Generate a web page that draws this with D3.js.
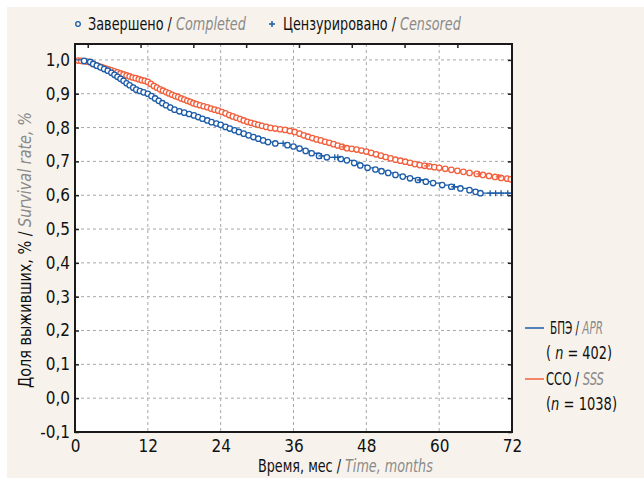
<!DOCTYPE html>
<html>
<head>
<meta charset="utf-8">
<script src="https://cdn.jsdelivr.net/npm/d3@7"></script>
<style>
  body { margin: 0; background: #fff; }
  svg text { font-family: "Liberation Sans Narrow", "DejaVu Sans Condensed", sans-serif; }
</style>
</head>
<body>
<svg id="chart" width="644" height="478"></svg>
<script>
// APR (БПЭ) events: month, survival
let aprT = [1.5, 2.5, 3.0, 3.6, 4.2, 4.8, 5.4, 6.0, 6.5, 7.0, 7.5, 8.0, 8.5, 9.0, 9.6, 10.1, 10.7, 11.3, 12.0,
  12.6, 13.2, 13.8, 14.4, 15.0, 15.7, 16.4, 17.2, 18.0, 18.8, 19.6, 20.3, 21.0, 21.8, 22.5, 23.3, 24.0,
  24.8, 25.5, 26.3, 27.0, 27.8, 28.6, 29.4, 30.2, 31.0, 31.8, 33.0, 35.0, 36.0, 37.0, 38.0, 39.0, 40.2,
  41.5, 43.8, 44.8, 46.0, 47.0, 48.2, 49.5, 50.5, 51.6, 52.8, 54.0, 55.2, 56.5, 57.8, 59.0, 60.5, 62.0,
  63.5, 65.0, 66.0, 66.8];
let aprS = [0.997, 0.994, 0.988, 0.983, 0.978, 0.973, 0.968, 0.962, 0.956, 0.950, 0.944, 0.938, 0.931, 0.925, 0.918, 0.912, 0.908, 0.904, 0.900,
  0.893, 0.886, 0.879, 0.872, 0.866, 0.859, 0.853, 0.848, 0.844, 0.840, 0.836, 0.831, 0.826, 0.821, 0.816, 0.812, 0.808,
  0.802, 0.797, 0.792, 0.787, 0.782, 0.777, 0.772, 0.767, 0.762, 0.757, 0.753, 0.748, 0.744, 0.738, 0.731, 0.724, 0.716,
  0.712, 0.707, 0.703, 0.695, 0.688, 0.681, 0.676, 0.671, 0.666, 0.660, 0.655, 0.650, 0.645, 0.640, 0.636, 0.630, 0.625,
  0.620, 0.615, 0.610, 0.606];
let aprCens = [34.3, 40.6, 42.8, 43.3, 56.8, 62.5, 68.4, 69.3, 70.2, 71.3];

// SSS (ССО) events: month, survival
let sssT = [0.5, 1.0, 1.5, 2.0, 2.5, 3.0, 3.5, 4.0, 4.5, 5.0, 5.5, 6.0, 6.5, 7.0, 7.5, 8.0, 8.5, 9.0, 9.5, 10.0,
  10.5, 11.0, 11.5, 12.0, 12.5, 13.0, 13.5, 14.0, 14.5, 15.0, 15.5, 16.0, 16.5, 17.0, 17.5, 18.0, 18.5, 19.0,
  19.5, 20.0, 20.6, 21.2, 21.8, 22.4, 23.0, 23.6, 24.2, 24.8, 25.4, 26.0, 26.6, 27.2, 27.8, 28.4, 29.0, 29.6,
  30.2, 30.8, 31.5, 32.2, 33.0, 33.8, 34.6, 35.4, 36.2, 37.0, 37.7, 38.4, 39.1, 39.8, 40.5, 41.2, 41.9, 42.6,
  43.3, 44.0, 44.8, 45.6, 46.4, 47.2, 48.0, 48.8, 49.6, 50.4, 51.2, 52.0, 52.8, 53.6, 54.4, 55.2, 56.0, 56.8,
  57.6, 58.4, 59.2, 60.0, 61.0, 62.0, 63.0, 64.0, 65.0, 66.2, 67.2, 68.2, 69.2, 70.2, 71.2, 71.8];
let sssS = [0.998, 0.997, 0.996, 0.995, 0.993, 0.988, 0.984, 0.981, 0.978, 0.975, 0.972, 0.969, 0.966, 0.963, 0.960, 0.957, 0.954, 0.951, 0.948, 0.946,
  0.943, 0.940, 0.938, 0.935, 0.929, 0.923, 0.918, 0.913, 0.909, 0.905, 0.901, 0.897, 0.893, 0.890, 0.886, 0.883, 0.879, 0.876,
  0.872, 0.869, 0.866, 0.863, 0.860, 0.856, 0.853, 0.850, 0.846, 0.842, 0.837, 0.833, 0.829, 0.825, 0.821, 0.817, 0.814, 0.811,
  0.808, 0.805, 0.802, 0.799, 0.797, 0.795, 0.793, 0.790, 0.787, 0.782, 0.777, 0.773, 0.769, 0.765, 0.762, 0.758, 0.755, 0.751,
  0.747, 0.743, 0.739, 0.737, 0.735, 0.732, 0.729, 0.725, 0.721, 0.717, 0.713, 0.709, 0.705, 0.702, 0.699, 0.696, 0.692, 0.689,
  0.687, 0.685, 0.683, 0.681, 0.678, 0.675, 0.672, 0.669, 0.666, 0.663, 0.660, 0.657, 0.654, 0.651, 0.649, 0.647];
let sssCens = [44.2, 58.0, 66.6, 69.8];

let xTicks = [0, 12, 24, 36, 48, 60, 72];
let yTicks = [-0.1, 0, 0.1, 0.2, 0.3, 0.4, 0.5, 0.6, 0.7, 0.8, 0.9, 1.0];
let topTicks = [2.1, 10.8, 19.5, 28.2, 36.9, 45.6, 54.3, 63.0];

let colorApr = '#1d5ca8';
let colorSss = '#f2603e';
let colorGrid = '#a8a8a8';
let colorGray = '#8a8a8a';

let svg = d3.select('#chart');
let margin = { left: 75, top: 44, right: 132, bottom: 46 };
let width = 644 - margin.left - margin.right;
let height = 478 - margin.top - margin.bottom;

svg.append('rect').attr('x', 7).attr('y', 7).attr('width', 637).attr('height', 471).attr('fill', '#f7f3ec');

let x = d3.scaleLinear().domain([0, 72]).range([0, width]);
let y = d3.scaleLinear().domain([-0.1, 1.047]).range([height, 0]);

let g = svg.append('g').attr('transform', `translate(${margin.left},${margin.top})`);
g.append('rect').attr('width', width).attr('height', height).attr('fill', '#fff');

// grid
g.append('g').selectAll('line').data(xTicks.slice(1, -1)).join('line')
  .attr('x1', d => x(d)).attr('x2', d => x(d)).attr('y1', 0).attr('y2', height)
  .attr('stroke', colorGrid).attr('stroke-dasharray', '3,3');
g.append('g').selectAll('line').data(yTicks.slice(1)).join('line')
  .attr('y1', d => y(d)).attr('y2', d => y(d)).attr('x1', 0).attr('x2', width)
  .attr('stroke', colorGrid).attr('stroke-dasharray', '3,3');

let fmt = d => d3.format('.1f')(d).replace('.', ',').replace('−', '-');

// axes
g.append('g').attr('transform', `translate(0,${height})`)
  .call(d3.axisBottom(x).tickValues(xTicks).tickSize(0).tickPadding(8));
g.append('g').call(d3.axisLeft(y).tickValues(yTicks).tickSize(-4).tickPadding(5).tickFormat(fmt));
g.append('g').attr('transform', `translate(${width},0)`)
  .call(d3.axisRight(y).tickValues(yTicks).tickSize(-4).tickFormat(''));
g.append('g').call(d3.axisTop(x).tickValues(topTicks).tickSize(-4).tickFormat(''));
g.selectAll('.domain').remove();
g.selectAll('.tick line').attr('stroke', '#222').attr('stroke-width', 1.5);
g.selectAll('.tick text').attr('fill', '#111').style('font-size', '17px');

// clip
svg.append('clipPath').attr('id', 'clip').append('rect').attr('width', width).attr('height', height);
let plot = g.append('g').attr('clip-path', 'url(#clip)');

function stepPoints(ts, ss) {
  let pts = [[0, 1]];
  ts.forEach((t, i) => pts.push([t, ss[i]]));
  pts.push([72, ss[ss.length - 1]]);
  return pts;
}

function survAt(ts, ss, t) {
  let s = 1;
  ts.forEach((ti, i) => { if (ti <= t) s = ss[i]; });
  return s;
}

let line = d3.line().curve(d3.curveStepAfter).x(d => x(d[0])).y(d => y(d[1]));

function drawSeries(ts, ss, cens, color) {
  plot.append('path').datum(stepPoints(ts, ss))
    .attr('fill', 'none').attr('stroke', color).attr('stroke-width', 1.3).attr('d', line);
  plot.append('g').selectAll('circle').data(ts).join('circle')
    .attr('cx', d => x(d)).attr('cy', (d, i) => y(ss[i])).attr('r', 2.7)
    .attr('fill', '#fff').attr('stroke', color).attr('stroke-width', 1.3);
  plot.append('g').selectAll('path').data(cens).join('path')
    .attr('transform', d => `translate(${x(d)},${y(survAt(ts, ss, d))})`)
    .attr('d', 'M-3,0H3M0,-3V3').attr('stroke', color).attr('stroke-width', 1.3);
}

drawSeries(sssT, sssS, sssCens, colorSss);
drawSeries(aprT, aprS, aprCens, colorApr);

// frame
g.append('rect').attr('width', width).attr('height', height)
  .attr('fill', 'none').attr('stroke', '#1a1a1a').attr('stroke-width', 2);

// text squeezed horizontally to a target width (condensed look)
function label(parent, px, py, parts, len, rot) {
  let holder = parent.append('g');
  let t = holder.append('text').style('font-size', '17.5px');
  parts.forEach(p => {
    let s = t.append('tspan').attr('fill', p.gray ? colorGray : '#111').text(p.text);
    if (p.italic) s.attr('font-style', 'italic');
  });
  let sx = len / t.node().getComputedTextLength();
  holder.attr('transform', `translate(${px},${py})` + (rot ? ` rotate(${rot})` : '') + ` scale(${sx},1)`);
  return holder;
}

// top legend
let topLeg = svg.append('g');
topLeg.append('circle').attr('cx', 78).attr('cy', 24).attr('r', 2.3).attr('fill', 'none').attr('stroke', colorApr).attr('stroke-width', 1.3);
label(topLeg, 88, 30, [{ text: 'Завершено / ' }, { text: 'Completed', gray: 1, italic: 1 }], 158);
topLeg.append('path').attr('d', 'M269,24H275M272,21V27').attr('stroke', colorApr).attr('stroke-width', 1.5);
label(topLeg, 283, 30, [{ text: 'Цензурировано / ' }, { text: 'Censored', gray: 1, italic: 1 }], 178);

// right legend
let leg = svg.append('g');
leg.append('line').attr('x1', 525).attr('x2', 544).attr('y1', 328).attr('y2', 328).attr('stroke', colorApr).attr('stroke-width', 1.5);
label(leg, 550, 334, [{ text: 'БПЭ / ' }, { text: 'APR', gray: 1, italic: 1 }], 53);
label(leg, 546, 359, [{ text: '( ' }, { text: 'n', italic: 1 }, { text: ' = 402)' }], 66);
leg.append('line').attr('x1', 525).attr('x2', 544).attr('y1', 379).attr('y2', 379).attr('stroke', colorSss).attr('stroke-width', 1.5);
label(leg, 546, 385, [{ text: 'ССО / ' }, { text: 'SSS', gray: 1, italic: 1 }], 58);
label(leg, 546, 410, [{ text: '(' }, { text: 'n', italic: 1 }, { text: ' = 1038)' }], 71);

// axis titles
label(svg, 258, 472, [{ text: 'Время, мес / ' }, { text: 'Time, months', gray: 1, italic: 1 }], 175);
label(svg, 31, 388, [{ text: 'Доля выживших, % / ' }, { text: 'Survival rate, %', gray: 1, italic: 1 }], 276, -90);
</script>
</body>
</html>
